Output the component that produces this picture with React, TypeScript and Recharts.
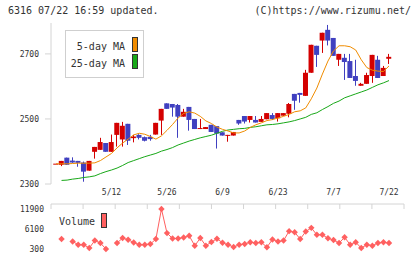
import React from 'react';
import { ComposedChart, LineChart, Line, Bar, XAxis, YAxis } from 'recharts';

// trading days, one per candle
const DATES = [
  '4/23', '4/24', '4/25', '4/28', '4/30', '5/1', '5/2', '5/7', '5/8', '5/9',
  '5/12', '5/13', '5/14', '5/15', '5/16', '5/19', '5/20', '5/21', '5/22', '5/23',
  '5/26', '5/27', '5/28', '5/29', '5/30', '6/2', '6/3', '6/4', '6/5', '6/6',
  '6/9', '6/10', '6/11', '6/12', '6/13', '6/16', '6/17', '6/18', '6/19', '6/20',
  '6/23', '6/24', '6/25', '6/26', '6/27', '6/30', '7/1', '7/2', '7/3', '7/4',
  '7/7', '7/8', '7/9', '7/10', '7/11', '7/14', '7/15', '7/16', '7/17', '7/18',
  '7/22',
];

const OPEN = [
  2361, 2359, 2381, 2372, 2371, 2366, 2341, 2399, 2405, 2426,
  2399, 2451, 2437, 2485, 2441, 2451, 2444, 2445, 2452, 2495,
  2548, 2546, 2543, 2507, 2537, 2500, 2469, 2469, 2482, 2478,
  2459, 2450, 2449, 2497, 2509, 2497, 2497, 2491, 2499, 2512,
  2502, 2510, 2516, 2577, 2580, 2571, 2642, 2725, 2741, 2774,
  2749, 2682, 2688, 2678, 2632, 2602, 2608, 2632, 2682, 2632,
  2685,
];
const HIGH = [
  2361, 2371, 2381, 2382, 2371, 2369, 2371, 2414, 2442, 2426,
  2452, 2488, 2491, 2485, 2451, 2453, 2446, 2451, 2488, 2531,
  2548, 2546, 2546, 2531, 2537, 2500, 2500, 2475, 2482, 2478,
  2459, 2451, 2460, 2497, 2509, 2509, 2509, 2509, 2518, 2518,
  2518, 2518, 2549, 2577, 2580, 2651, 2728, 2725, 2765, 2789,
  2749, 2700, 2700, 2700, 2682, 2611, 2642, 2697, 2694, 2663,
  2700,
];
const LOW = [
  2361, 2355, 2359, 2365, 2353, 2307, 2341, 2378, 2405, 2399,
  2399, 2415, 2415, 2420, 2428, 2437, 2431, 2433, 2452, 2451,
  2531, 2507, 2442, 2507, 2464, 2469, 2469, 2469, 2460, 2409,
  2449, 2430, 2449, 2482, 2486, 2489, 2489, 2491, 2499, 2497,
  2492, 2510, 2505, 2528, 2550, 2571, 2642, 2660, 2703, 2726,
  2694, 2663, 2620, 2626, 2602, 2602, 2608, 2611, 2626, 2632,
  2669,
];
const CLOSE = [
  2361, 2371, 2359, 2366, 2365, 2338, 2371, 2414, 2429, 2399,
  2429, 2488, 2479, 2433, 2446, 2442, 2433, 2438, 2488, 2531,
  2531, 2535, 2507, 2522, 2497, 2469, 2472, 2475, 2460, 2455,
  2449, 2451, 2460, 2486, 2492, 2509, 2489, 2500, 2518, 2500,
  2518, 2518, 2546, 2556, 2574, 2642, 2728, 2697, 2765, 2741,
  2694, 2700, 2675, 2626, 2617, 2608, 2635, 2697, 2626, 2657,
  2691,
];

const MA5 = [
  2362, 2362, 2362, 2363, 2364, 2364, 2364, 2365, 2372, 2383,
  2394, 2411, 2426, 2438, 2451, 2456, 2453, 2446, 2438, 2448,
  2465, 2483, 2503, 2517, 2522, 2518, 2508, 2494, 2486, 2475,
  2468, 2463, 2457, 2457, 2463, 2474, 2482, 2488, 2495, 2498,
  2503, 2508, 2514, 2522, 2525, 2534, 2562, 2595, 2638, 2678,
  2709, 2725, 2725, 2722, 2712, 2682, 2658, 2650, 2647, 2646,
  2663,
];
const MA25 = [
  null, 2311, 2312, 2315, 2317, 2320, 2322, 2325, 2332, 2338,
  2343, 2349, 2357, 2366, 2372, 2378, 2384, 2389, 2394, 2401,
  2406, 2412, 2420, 2426, 2432, 2437, 2442, 2446, 2450, 2456,
  2462, 2466, 2468, 2470, 2471, 2474, 2476, 2479, 2482, 2483,
  2485, 2488, 2491, 2495, 2500, 2505, 2514, 2519, 2529, 2538,
  2548, 2555, 2565, 2571, 2577, 2583, 2589, 2597, 2605, 2611,
  2618,
];

const VOLUME = [
  null, 3180, null, 2490, 1540, 1540, 590, 2780, 2030, 300,
  null, 2030, 3470, 2980, 2200, 1540, 1540, 1740, 3180, 11900,
  4910, 3350, 3350, 3640, 4130, 1250, 3470, 1250, 2320, 3270,
  2110, 1540, 880, 1540, 1770, 2260, 2030, 2260, 820, 3060,
  2460, 2750, 5480, 5140, 3180, 5370, 6430, 4420, 4420, 3410,
  2890, 2030, 3700, 1540, 2260, 590, 1540, 1250, 2030, 2260,
  2030,
];

const DATE_TICKS = [10, 20, 30, 40, 50, 60];
const PRICE_TICKS = [2300, 2500, 2700];
const VOLUME_TICKS = [300, 6100, 11900];

const RED = '#d40000';
const BLUE = '#4040c0';
const ORANGE = '#f08c00';
const GREEN = '#18a818';
const VOL = '#ff6060';
const AXIS = '#d4d4d4';
const TEXT = '#333';
const FONT = '"DejaVu Sans Mono", monospace';

const X_DOMAIN: [number, number] = [-0.9, 62.7];
const MARK_TICKS = Array.from({ length: 12 }, (_, k) => X_DOMAIN[0] + (k * (X_DOMAIN[1] - X_DOMAIN[0])) / 11);

const rows = DATES.map((date, i) => ({
  i,
  date,
  open: OPEN[i],
  high: HIGH[i],
  low: LOW[i],
  close: CLOSE[i],
  ma5: MA5[i],
  ma25: MA25[i],
  volume: VOLUME[i],
}));

const Candle = (props: any) => {
  const { x, y, width, height, payload } = props;
  const { open, close, high, low } = payload;
  const color = close >= open ? RED : BLUE;
  const top = Math.min(y, y + height);
  const h = Math.abs(height);
  const cx = Math.floor(x + width / 2) + 0.5;
  if (high === low || h === 0) {
    return <rect x={x} y={top - 0.5} width={width} height={1} fill={color} />;
  }
  const k = h / (high - low);
  const yOf = (v: number) => top + (high - v) * k;
  const bodyTop = yOf(Math.max(open, close));
  const bodyBot = yOf(Math.min(open, close));
  return (
    <g>
      <line x1={cx} x2={cx} y1={top} y2={top + h} stroke={color} strokeWidth={1} />
      <rect x={x} y={bodyTop} width={width} height={Math.max(1, bodyBot - bodyTop)} fill={color} />
    </g>
  );
};

const Diamond = (props: any) => {
  const { cx, cy, index } = props;
  if (cx == null || cy == null || props.value == null) return <g key={`d-${index}`} />;
  const r = 3.2;
  return (
    <polygon
      key={`d-${index}`}
      points={`${cx},${cy - r} ${cx + r},${cy} ${cx},${cy + r} ${cx - r},${cy}`}
      fill={VOL}
    />
  );
};

const tickStyle = { fill: TEXT, fontSize: 8, fontFamily: FONT };

export default function App() {
  return (
    <div
      style={{
        position: 'absolute',
        left: 0,
        top: 0,
        width: 420,
        height: 259,
        background: '#fff',
        overflow: 'hidden',
        fontFamily: FONT,
        color: TEXT,
      }}
    >
      <div style={{ position: 'absolute', left: 8, top: 5, fontSize: 10, whiteSpace: 'pre' }}>
        6316 07/22 16:59 updated.
      </div>
      <div style={{ position: 'absolute', right: 9, top: 5, fontSize: 10, whiteSpace: 'pre' }}>
        (C)https://www.rizumu.net/
      </div>

      <div style={{ position: 'absolute', left: 0, top: 0 }}>
        <ComposedChart width={420} height={215} data={rows} margin={{ top: 23, right: 16, left: 0, bottom: 5 }}>
          <XAxis
            xAxisId="t"
            dataKey="i"
            type="number"
            domain={X_DOMAIN}
            allowDataOverflow
            ticks={MARK_TICKS}
            tickFormatter={() => ''}
            height={6}
            tickSize={5}
            axisLine={{ stroke: AXIS }}
            tickLine={{ stroke: AXIS }}
          />
          <XAxis
            xAxisId="d"
            dataKey="i"
            type="number"
            domain={X_DOMAIN}
            allowDataOverflow
            ticks={DATE_TICKS}
            tickFormatter={(v: number) => DATES[v]}
            height={20}
            tickSize={0}
            tickMargin={5}
            axisLine={false}
            tickLine={false}
            tick={tickStyle}
            interval={0}
          />
          <YAxis
            type="number"
            domain={[2300, 2795]}
            allowDataOverflow
            ticks={PRICE_TICKS}
            width={51}
            tickSize={6}
            tickMargin={6}
            axisLine={{ stroke: AXIS }}
            tickLine={{ stroke: AXIS }}
            tick={tickStyle}
          />
          <Line xAxisId="t" dataKey="ma25" stroke={GREEN} strokeWidth={1} dot={false} isAnimationActive={false} />
          <Line xAxisId="t" dataKey="ma5" stroke={ORANGE} strokeWidth={1} dot={false} isAnimationActive={false} />
          <Bar
            xAxisId="t"
            dataKey={(d: any) => [d.low, d.high]}
            barSize={5}
            shape={<Candle />}
            isAnimationActive={false}
          />
        </ComposedChart>
      </div>

      <div style={{ position: 'absolute', left: 0, top: 190 }}>
        <LineChart width={420} height={69} data={rows} margin={{ top: 19, right: 16, left: 0, bottom: 10 }}>
          <XAxis dataKey="i" type="number" domain={X_DOMAIN} allowDataOverflow hide />
          <YAxis
            type="number"
            domain={[300, 11900]}
            ticks={VOLUME_TICKS}
            width={51}
            tickSize={0}
            tickMargin={7}
            axisLine={false}
            tickLine={false}
            tick={tickStyle}
          />
          <Line
            dataKey="volume"
            stroke={VOL}
            strokeWidth={1}
            dot={<Diamond />}
            activeDot={false}
            isAnimationActive={false}
          />
        </LineChart>
      </div>

      {/* moving-average key */}
      <div
        style={{
          position: 'absolute',
          left: 65,
          top: 30,
          width: 77,
          height: 46,
          border: '1px solid #cfcfcf',
          background: '#fff',
          fontSize: 10,
        }}
      >
        <div style={{ position: 'absolute', right: 18, top: 10, lineHeight: '12px' }}>5-day MA</div>
        <div style={{ position: 'absolute', right: 18, top: 27, lineHeight: '12px' }}>25-day MA</div>
        <div style={{ position: 'absolute', left: 66, top: 6, width: 4, height: 13, background: ORANGE, border: '1px solid #333' }} />
        <div style={{ position: 'absolute', left: 66, top: 23, width: 4, height: 13, background: GREEN, border: '1px solid #333' }} />
      </div>

      {/* volume key */}
      <div style={{ position: 'absolute', left: 59, top: 216, fontSize: 10, lineHeight: '12px' }}>Volume</div>
      <div style={{ position: 'absolute', left: 101, top: 213, width: 4, height: 13, background: VOL, border: '1px solid #333' }} />
    </div>
  );
}
